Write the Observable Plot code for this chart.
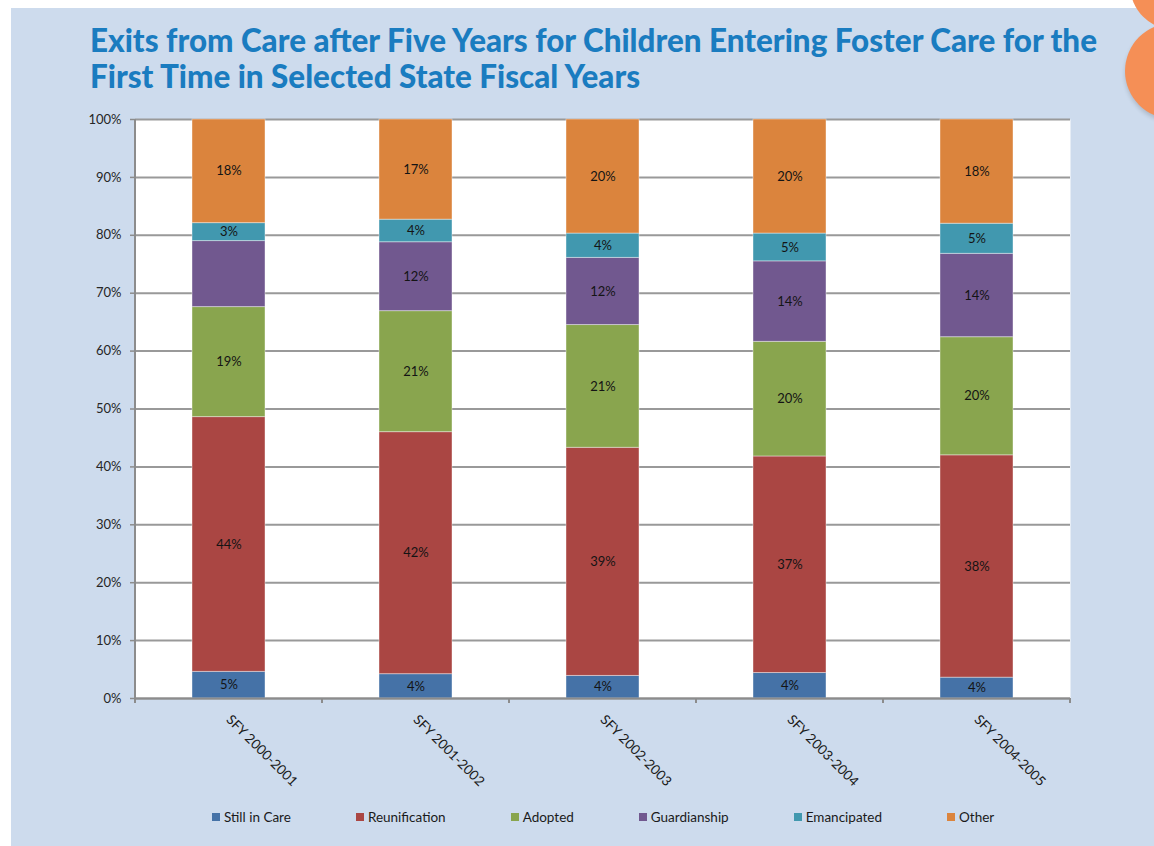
<!DOCTYPE html>
<html>
<head>
<meta charset="utf-8">
<script src="https://cdn.jsdelivr.net/npm/d3@7"></script>
<script src="https://cdn.jsdelivr.net/npm/@observablehq/plot@0.6"></script>
<style>
  html, body { margin: 0; padding: 0; background: #fff; overflow: hidden; }
  #page { position: relative; width: 1154px; height: 846px; overflow: hidden; background: #fff; font-family: Lato, "Open Sans", sans-serif; }
  #panel { position: absolute; left: 11px; top: 8px; right: 0; bottom: 0; background: #cddbed; }
  .blob { position: absolute; border-radius: 50%; background: #f58f56; }
  .tline { position: absolute; left: 90px; white-space: nowrap; font-family: Lato, sans-serif; font-weight: 900; font-size: 32px; line-height: 32px; color: #1a7cc0; transform-origin: 0 50%; }
  #chart { position: absolute; left: 0; top: 100px; }
  #legend { position: absolute; left: 212px; top: 809px; display: flex; align-items: center; font-family: Lato, sans-serif; font-size: 13.5px; color: #1a1a1a; }
  .li { display: flex; align-items: center; margin-right: 65px; white-space: nowrap; }
  .sw { width: 8px; height: 8px; margin-right: 4px; }
</style>
</head>
<body>
<div id="page">
  <div id="panel"></div>
  <div class="blob" style="left:1130px;top:-60px;width:90px;height:90px;"></div>
  <div class="blob" style="left:1125px;top:23px;width:96px;height:96px;box-shadow:0 3px 4px rgba(0,0,0,0.15);"></div>
  <div class="tline" id="t1" style="top:24px;">Exits from Care after Five Years for Children Entering Foster Care for the</div>
  <div class="tline" id="t2" style="top:60px;">First Time in Selected State Fiscal Years</div>
  <div id="chart"></div>
  <div id="legend"></div>
</div>
<script>
// ---- data ----
const years = ["SFY 2000-2001", "SFY 2001-2002", "SFY 2002-2003", "SFY 2003-2004", "SFY 2004-2005"];
const categories = ["Still in Care", "Reunification", "Adopted", "Guardianship", "Emancipated", "Other"];
const colors = ["#4572a7", "#aa4643", "#89a54e", "#71588f", "#4198af", "#db843d"];
const stillInCare   = [4.6, 4.2, 3.9, 4.4, 3.6];
const reunification = [44.0, 41.8, 39.4, 37.4, 38.4];
const adopted       = [19.0, 20.9, 21.2, 19.8, 20.4];
const guardianship  = [11.4, 11.9, 11.6, 13.9, 14.4];
const emancipated   = [3.1, 3.9, 4.2, 4.8, 5.2];
const other         = [17.9, 17.3, 19.7, 19.7, 18.0];
const yTicks = [0, 10, 20, 30, 40, 50, 60, 70, 80, 90, 100];
// labels not shown in the original
const hiddenLabels = [["SFY 2000-2001", "Guardianship"]];

const series = [stillInCare, reunification, adopted, guardianship, emancipated, other];
const rows = [];
years.forEach((yr, i) => categories.forEach((c, j) => rows.push({year: yr, cat: c, value: series[j][i]})));
const isHidden = d => hiddenLabels.some(([y, c]) => y === d.year && c === d.cat);

// ---- title fit ----
function fitTitle() {
  const t1 = document.getElementById("t1"), t2 = document.getElementById("t2");
  const w = t1.getBoundingClientRect().width;
  const s = 1007 / w;
  t1.style.transform = `scaleX(${s})`;
  t2.style.transform = `scaleX(${s})`;
}
fitTitle();

// ---- chart ----
const axisGray = "#8c8c8c";
const chart = Plot.plot({
  width: 1154,
  height: 746,
  marginTop: 19,
  marginBottom: 148,
  marginLeft: 135,
  marginRight: 84,
  style: {background: "transparent", fontFamily: "Lato, sans-serif", color: "#262626", overflow: "visible"},
  x: {domain: years, paddingInner: 0.61, paddingOuter: 0.305, axis: null},
  y: {domain: [0, 100], axis: null},
  color: {domain: categories, range: colors},
  marks: [
    Plot.frame({fill: "white", stroke: "none"}),
    Plot.gridY({ticks: yTicks, stroke: "#999", strokeOpacity: 1, strokeWidth: 2}),
    Plot.barY(rows, {x: "year", y: "value", fill: "cat", stroke: "white", strokeOpacity: 0.4, strokeWidth: 1}),
    Plot.text(rows, Plot.stackY({x: "year", y: "value", z: "cat",
      text: d => isHidden(d) ? "" : Math.round(d.value) + "%", fontSize: 13, fill: "#141414"})),
    Plot.ruleY([0], {stroke: axisGray, strokeWidth: 2}),
    Plot.axisY({ticks: yTicks, tickFormat: d => d + "%", tickSize: 5, tickPadding: 9, fontSize: 13, stroke: axisGray, strokeWidth: 1.5, label: null}),
    Plot.text(years, {x: d => d, frameAnchor: "bottom", dx: -3.5, dy: 22, rotate: 45, textAnchor: "start", fontSize: 13.5, fill: "#1a1a1a"}),
    (index, scales, values, dims) => {
      const x = scales.x;
      const bw = x.bandwidth();
      const centers = years.map(v => x(v) + bw / 2);
      const step = x.step ? x.step() : (centers[1] - centers[0]);
      const y0 = dims.height - dims.marginBottom;
      const xs = [centers[0] - step / 2, ...centers.map(c => c + step / 2)];
      const g = d3.create("svg:g");
      g.selectAll("line").data(xs).join("line")
        .attr("x1", d => d).attr("x2", d => d)
        .attr("y1", y0).attr("y2", y0 + 5)
        .attr("stroke", axisGray).attr("stroke-width", 2);
      g.append("line")
        .attr("x1", xs[0]).attr("x2", xs[0])
        .attr("y1", dims.marginTop).attr("y2", y0 + 1)
        .attr("stroke", axisGray).attr("stroke-width", 2);
      return g.node();
    }
  ]
});
document.getElementById("chart").appendChild(chart);

// ---- legend ----
const legend = d3.select("#legend");
categories.forEach((c, i) => {
  const item = legend.append("div").attr("class", "li");
  item.append("div").attr("class", "sw").style("background", colors[i]);
  item.append("span").text(c);
});
</script>
</body>
</html>
